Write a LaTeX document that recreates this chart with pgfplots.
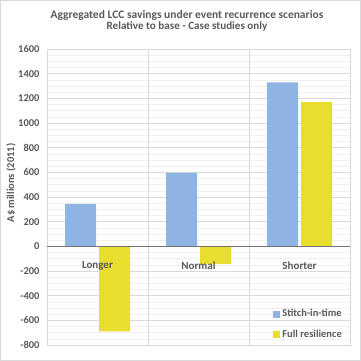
\documentclass[border=0pt]{standalone}
\usepackage{fontspec}
\setmainfont{Carlito}
\usepackage{pgfplots}
\pgfplotsset{compat=1.18}
\definecolor{barblue}{RGB}{142,180,227}
\definecolor{baryellow}{RGB}{233,221,46}
\definecolor{txt}{RGB}{89,89,89}
\definecolor{gridc}{RGB}{217,217,217}
\begin{document}
\begin{tikzpicture}[x=1pt,y=1pt]
\useasboundingbox (0,0) rectangle (361,361);
\draw[gridc,line width=0.8pt] (0.5,0.5) rectangle (360.5,360.5);
\node[font=\bfseries\fontsize{11.5}{13}\selectfont,text=txt] at (187,346) {Aggregated LCC savings under event recurrence scenarios};
\node[font=\bfseries\fontsize{11.1}{13}\selectfont,text=txt] at (187,334.5) {Relative to base - Case studies only};
\node[font=\bfseries\fontsize{10.5}{12}\selectfont,text=txt,rotate=90] at (11,178) {A\$ millions (2011)};
\begin{axis}[
  at={(47pt,16pt)}, anchor=south west,
  scale only axis, width=303pt, height=296pt,
  xmin=-0.5, xmax=2.5, ymin=-800, ymax=1600,
  ytick={-800,-600,...,1600},
  minor y tick num=3,
  xtick={0,1,2}, xticklabels={},
  extra x ticks={0.5,1.5}, extra x tick labels={},
  extra x tick style={grid=major, major tick length=0pt},
  ymajorgrids, yminorgrids,
  major grid style={gridc,line width=0.5pt},
  minor grid style={gridc!40,line width=0.4pt},
  axis line style={gridc},
  tick style={draw=none},
  ticklabel style={font=\bfseries\fontsize{10.5}{12}\selectfont,text=txt},
  /pgf/number format/assume math mode=true,
  /pgf/number format/1000 sep={},
  yticklabel style={xshift=-4pt},
  ybar=3pt, bar width=31pt,
  clip=false,
  legend style={draw=none, fill=none, at={(0.99,0.005)}, anchor=south east,
    font=\bfseries\fontsize{10.5}{12}\selectfont, text=txt, row sep=8pt,
    /tikz/every even column/.append style={column sep=2pt}},
  legend cell align=left,
  legend image code/.code={\fill[#1] (0pt,-3.5pt) rectangle (7pt,3.5pt);},
]
\addplot[fill=barblue, draw=none] coordinates {(0,345) (1,595) (2,1330)};
\addplot[fill=baryellow, draw=none] coordinates {(0,-690) (1,-145) (2,1172)};
\draw[black!55, line width=0.8pt] (axis cs:-0.5,0) -- (axis cs:2.5,0);
\node[font=\bfseries\fontsize{11}{13}\selectfont,text=txt] at (axis cs:0,-160) {Longer};
\node[font=\bfseries\fontsize{11}{13}\selectfont,text=txt] at (axis cs:1,-160) {Normal};
\node[font=\bfseries\fontsize{11}{13}\selectfont,text=txt] at (axis cs:2,-160) {Shorter};
\legend{Stitch-in-time, Full resilience}
\end{axis}
\end{tikzpicture}
\end{document}
